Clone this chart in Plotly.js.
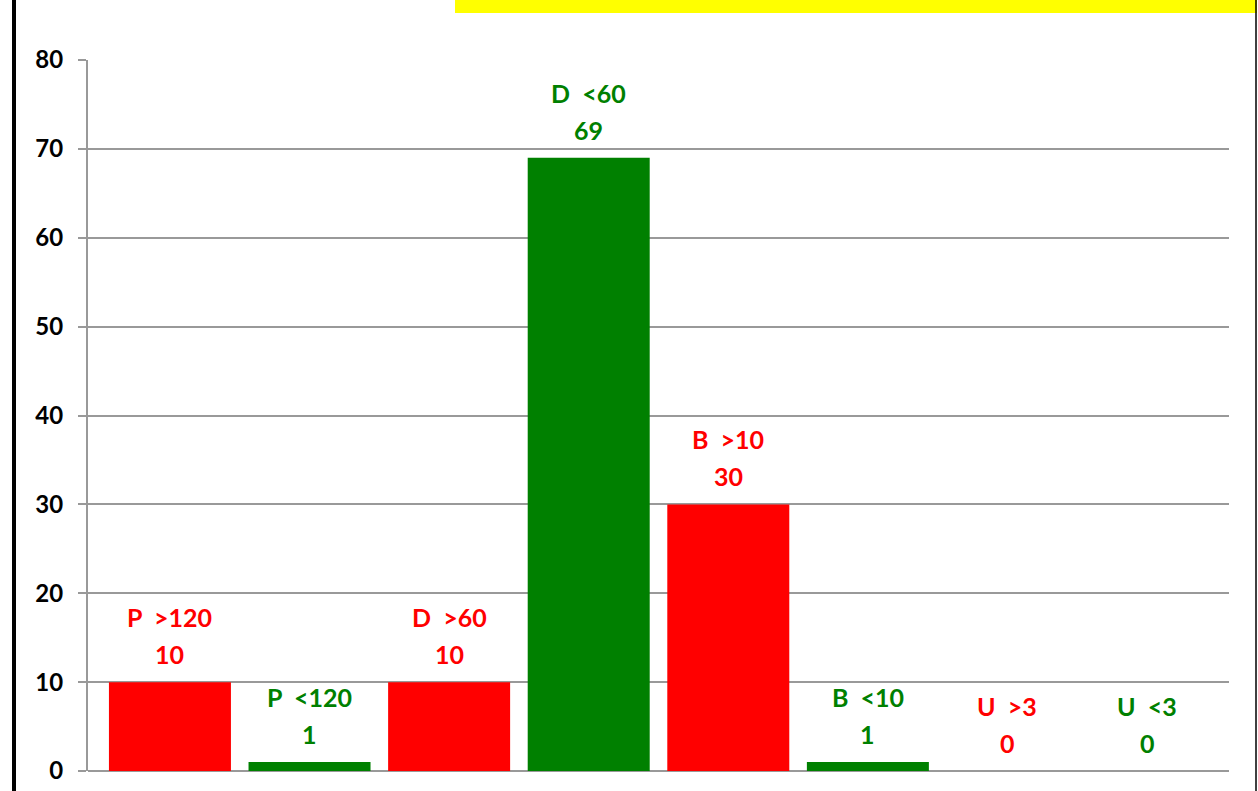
<!DOCTYPE html>
<html>
<head>
<meta charset="utf-8">
<script src="https://cdn.plot.ly/plotly-3.0.1.min.js"></script>
<style>
html,body{margin:0;padding:0;background:#fff;overflow:hidden;}
#chart{width:1258px;height:791px;}
</style>
</head>
<body>
<div id="chart"></div>
<script>
const categories = ["P  >120", "P  <120", "D  >60", "D  <60", "B  >10", "B  <10", "U  >3", "U  <3"];
const values = [10, 1, 10, 69, 30, 1, 0, 0];
const barColors = ["#ff0000", "#008000", "#ff0000", "#008000", "#ff0000", "#008000", "#ff0000", "#008000"];
const yTicks = [0, 10, 20, 30, 40, 50, 60, 70, 80];

const FONT = "Lato, 'Open Sans', sans-serif";
const W = 1258, H = 791;
const mL = 88, mR = W - 1229, mT = 60, mB = H - 771;
const pw = W - mL - mR, ph = H - mT - mB;
const px = x => (x - mL) / pw;
const py = y => (H - mB - y) / ph;

const annotations = [];
categories.forEach((c, i) => {
  annotations.push({
    x: i, y: values[i], xref: "x", yref: "y",
    text: String(values[i]), showarrow: false,
    yanchor: "middle", yshift: 28,
    font: {family: FONT, size: 25, color: barColors[i], weight: "bold"}
  });
  annotations.push({
    x: i, y: values[i], xref: "x", yref: "y",
    text: c.replace(/ /g, "&nbsp;"), showarrow: false,
    yanchor: "middle", yshift: 65,
    font: {family: FONT, size: 25, color: barColors[i], weight: "bold"}
  });
});

const shapes = [
  {type: "rect", xref: "paper", yref: "paper", x0: px(455), x1: px(1257), y0: py(13), y1: py(-2),
   fillcolor: "#ffff00", line: {width: 0}, layer: "below"},
  {type: "line", xref: "paper", yref: "paper", x0: px(14), x1: px(14), y0: py(-5), y1: py(800),
   line: {color: "#000", width: 4}},
  {type: "line", xref: "paper", yref: "paper", x0: px(1256), x1: px(1256), y0: py(-5), y1: py(800),
   line: {color: "#000", width: 1.5}}
];

const trace = {
  type: "bar",
  x: categories.map((c, i) => i),
  y: values,
  marker: {color: barColors, line: {width: 0}},
  hoverinfo: "skip"
};

const layout = {
  width: W, height: H,
  margin: {l: mL, r: mR, t: mT, b: mB, pad: 0},
  paper_bgcolor: "#fff", plot_bgcolor: "#fff",
  showlegend: false,
  bargap: 0.126,
  xaxis: {
    range: [-0.587, 7.587], showticklabels: false, showgrid: false, zeroline: false,
    showline: false, ticks: "", fixedrange: true
  },
  yaxis: {
    range: [0, 80], tickvals: yTicks, ticktext: yTicks.map(String),
    showgrid: true, gridcolor: "#999999", gridwidth: 2,
    zeroline: true, zerolinecolor: "#999999", zerolinewidth: 2,
    showline: true, linecolor: "#999999", linewidth: 2,
    ticks: "outside", ticklen: 8, tickcolor: "#999999", tickwidth: 2,
    ticklabelstandoff: 10,
    tickfont: {family: FONT, size: 24, color: "#000", weight: "bold"},
    fixedrange: true
  },
  annotations: annotations,
  shapes: shapes
};

Plotly.newPlot("chart", [trace], layout, {displayModeBar: false, staticPlot: true});
</script>
</body>
</html>
